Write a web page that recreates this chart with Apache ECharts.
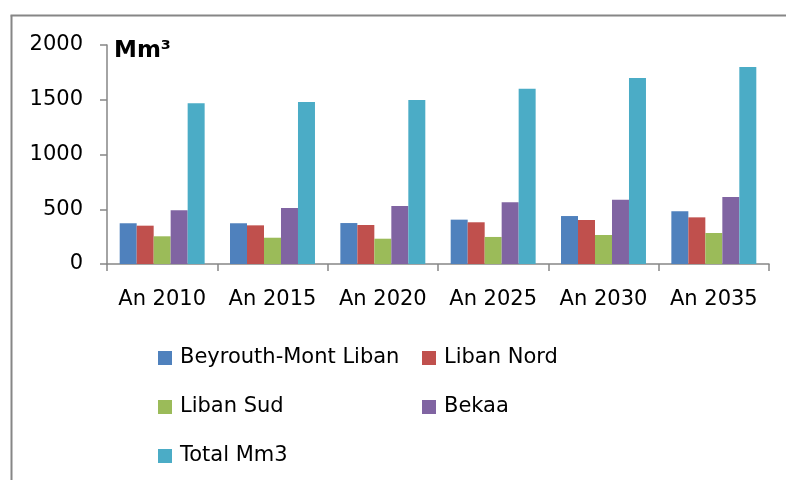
<!DOCTYPE html>
<html>
<head>
<meta charset="utf-8">
<script src="https://cdn.jsdelivr.net/npm/echarts@6/dist/echarts.min.js"></script>
<style>
    html, body { margin: 0; padding: 0; background: #fff; overflow: hidden; }
    #chart { width: 786px; height: 480px; }
</style>
</head>
<body>
<div id="chart"></div>
<script>
    // categories
    var years = ['An 2010', 'An 2015', 'An 2020', 'An 2025', 'An 2030', 'An 2035'];
    // series values (Mm3)
    var beyrouthMontLiban = [372, 372, 374, 405, 438, 481];
    var libanNord = [350, 353, 356, 381, 402, 426];
    var libanSud = [253, 240, 231, 247, 265, 283];
    var bekaa = [490, 511, 530, 563, 587, 612];
    var totalMm3 = [1467, 1479, 1498, 1601, 1699, 1799];
    var yTicks = [0, 500, 1000, 1500, 2000];

    var seriesNames = ['Beyrouth-Mont Liban', 'Liban Nord', 'Liban Sud', 'Bekaa', 'Total Mm3'];
    var seriesData = [beyrouthMontLiban, libanNord, libanSud, bekaa, totalMm3];
    var colors = ['#4F81BD', '#C0504D', '#9BBB59', '#8064A2', '#4BACC6'];

    var fontName = 'DejaVu Sans';
    var axisColor = '#868686';

    var myChart = echarts.init(document.getElementById('chart'));

    var legendBase = {
        orient: 'vertical',
        top: 341,
        itemWidth: 14,
        itemHeight: 14,
        itemGap: 25,
        icon: 'rect',
        textStyle: {
            color: '#000',
            fontSize: 21,
            lineHeight: 24,
            fontFamily: fontName,
            padding: [0, 0, 0, 3]
        }
    };

    var option = {
        animation: false,
        color: colors,
        textStyle: { fontFamily: fontName },
        grid: {
            left: 107,
            right: 17,
            top: 45,
            bottom: 216
        },
        // two legend columns, like the original layout
        legend: [
            Object.assign({}, legendBase, {
                left: 153,
                data: ['Beyrouth-Mont Liban', 'Liban Sud', 'Total Mm3']
            }),
            Object.assign({}, legendBase, {
                left: 417,
                data: ['Liban Nord', 'Bekaa']
            })
        ],
        xAxis: {
            type: 'category',
            data: years,
            axisLine: { lineStyle: { color: axisColor, width: 1.5 } },
            axisTick: { show: true, length: 7, lineStyle: { color: axisColor, width: 1.5 } },
            axisLabel: {
                color: '#000',
                fontSize: 21,
                fontFamily: fontName,
                interval: 0,
                margin: 25
            },
            splitLine: { show: false }
        },
        yAxis: {
            type: 'value',
            min: yTicks[0],
            max: yTicks[yTicks.length - 1],
            interval: yTicks[1] - yTicks[0],
            axisLine: { show: true, lineStyle: { color: axisColor, width: 1.5 } },
            axisTick: { show: true, length: 7, lineStyle: { color: axisColor, width: 1.5 } },
            axisLabel: {
                color: '#000',
                fontSize: 21,
                fontFamily: fontName,
                margin: 24,
                formatter: function (v) { return String(v); }
            },
            splitLine: { show: false }
        },
        graphic: [
            // outer frame: only the top and left edges fall inside the picture
            {
                type: 'line',
                shape: { x1: 10.5, y1: 15.5, x2: 786, y2: 15.5 },
                style: { stroke: axisColor, lineWidth: 2 },
                silent: true
            },
            {
                type: 'line',
                shape: { x1: 11.5, y1: 15.5, x2: 11.5, y2: 480 },
                style: { stroke: axisColor, lineWidth: 2 },
                silent: true
            },
            {
                type: 'text',
                left: 114,
                top: 40,
                style: {
                    text: 'Mm³',
                    fill: '#000',
                    font: 'bold 23px ' + fontName
                }
            }
        ],
        series: seriesNames.map(function (name, i) {
            return {
                name: name,
                type: 'bar',
                data: seriesData[i],
                barGap: '0%',
                barCategoryGap: '23%',
                itemStyle: { color: colors[i] }
            };
        })
    };

    myChart.setOption(option);
</script>
</body>
</html>
